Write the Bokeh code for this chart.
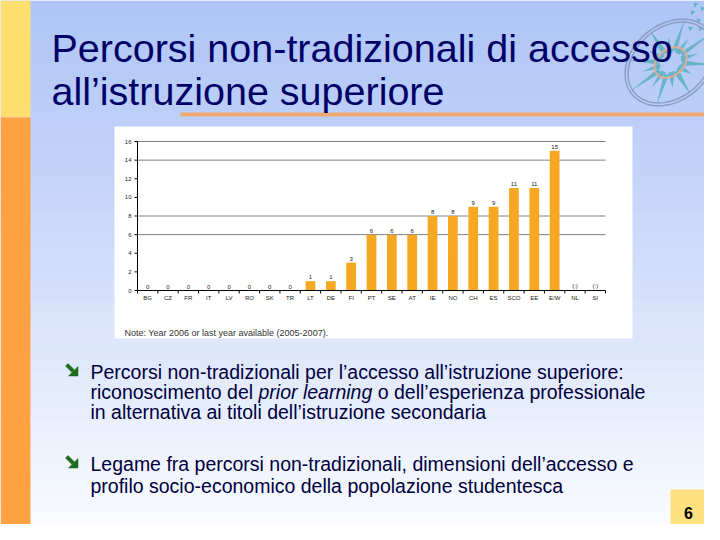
import numpy as np
from bokeh.plotting import figure
from bokeh.models import Range1d, ColumnDataSource
from bokeh.core.properties import value
from bokeh.embed import file_html
from bokeh.resources import INLINE

# ---------------- data ----------------
countries = ["BG", "CZ", "FR", "IT", "LV", "RO", "SK", "TR", "LT", "DE", "FI", "PT",
             "SE", "AT", "IE", "NO", "CH", "ES", "SCO", "EE", "E/W", "NL", "SI"]
values = [0, 0, 0, 0, 0, 0, 0, 0, 1, 1, 3, 6, 6, 6, 8, 8, 9, 9, 11, 11, 15, None, None]
missing_label = "(:)"
y_ticks = [0, 2, 4, 6, 8, 10, 12, 14, 16]
grid_ticks = [6, 8, 14, 16]
y_max = 16

title_lines = ["Percorsi non-tradizionali di accesso", "all\u2019istruzione superiore"]
note_text = "Note: Year 2006 or last year available (2005-2007)."
bullet1 = ["Percorsi non-tradizionali per l\u2019accesso all\u2019istruzione superiore:",
           ("riconoscimento del", "prior learning", "o dell\u2019esperienza professionale"),
           "in alternativa ai titoli dell\u2019istruzione secondaria"]
bullet2 = ["Legame fra percorsi non-tradizionali, dimensioni dell\u2019accesso e",
           "profilo socio-economico della popolazione studentesca"]
page_number = "6"

# ---------------- geometry (slide pixels) ----------------
W, H = 704, 524
X0, X1, Y0, Y1 = 0, W, 0, H
FL, FR, FT, FB = 137, 605, 141, 290                  # chart plot area
n = len(countries)
cw = (FR - FL) / n                                    # px per category
k = (FB - FT) / y_max                                 # px per unit

p = figure(width=W, height=H, x_range=Range1d(X0, X1), y_range=Range1d(Y1, Y0),
           x_axis_type=None, y_axis_type=None, output_backend="svg",
           toolbar_location=None, min_border=0)
p.outline_line_color = None
p.background_fill_color = "#F4F7FE"
p.border_fill_color = "#F4F7FE"
# chart scales mapped into the same frame
p.extra_x_ranges = {"idx": Range1d((X0 - FL) / cw, (X1 - FL) / cw)}
p.extra_y_ranges = {"val": Range1d((FB - Y1) / k, (FB - Y0) / k)}

FONT = value("Liberation Sans")

# ---------------- slide background ----------------
top_c = np.array([176, 198, 247])
bot_c = np.array([252, 253, 255])
ys = np.arange(0, 540, 10)
cols = []
for y in ys:
    t = (y / 530) ** 1.15
    c = np.clip(top_c + (bot_c - top_c) * t, 0, 255).astype(int)
    cols.append("#%02x%02x%02x" % tuple(c))
p.quad(left=0, right=720, top=ys, bottom=ys + 11, fill_color=cols, line_color=None)

deco = dict(left=[0, 0, 180, 114, 670], right=[30, 30, 720, 632, 720],
            top=[0, 117, 112, 126, 489], bottom=[117, 540, 116, 338, 540],
            color=["#FFDE70", "#FFA244", "#EDA86E", "#FFFFFF", "#FFE27E"])
p.quad(left="left", right="right", top="top", bottom="bottom", fill_color="color",
       line_color=None, source=ColumnDataSource(deco))

# compass decoration
cxc, cyc = 670, 62
ang = np.deg2rad(-40)
th = np.linspace(0, 2 * np.pi, 72)


def rot(ex, ey):
    return (cxc + ex * np.cos(ang) - ey * np.sin(ang),
            cyc + ex * np.sin(ang) + ey * np.cos(ang))


def ell(a, b):
    return rot(a * np.cos(th), b * np.sin(th))


pxs, pys = [], []
for j in range(16):
    phi = j * np.pi / 8 + 0.1
    r = 1.0 if j % 2 == 0 else 0.62
    a_, b_ = 50 * r, 38 * r
    tip = rot(a_ * np.cos(phi), b_ * np.sin(phi))
    w = 0.22 if j % 2 == 0 else 0.3
    base = 14 if j % 2 == 0 else 12
    s1 = rot(base * np.cos(phi + w), base * 0.76 * np.sin(phi + w))
    s2 = rot(base * np.cos(phi - w), base * 0.76 * np.sin(phi - w))
    pxs.append([s1[0], tip[0], s2[0]])
    pys.append([s1[1], tip[1], s2[1]])
for (dx, dy) in [(700, 6), (705, 14), (696, 18), (690, 10), (688, 26), (698, 26), (693, 2)]:
    pxs.append([dx, dx + 5, dx + 1])
    pys.append([dy, dy + 1, dy + 5])
p.patches(pxs, pys, fill_color="#5FB0BE", fill_alpha=0.9, line_color=None)
e1 = ell(50, 38)
e2 = ell(47, 35)
e3 = ell(18, 13)
p.multi_line([list(e1[0]), list(e2[0])], [list(e1[1]), list(e2[1])],
             line_color="#8C9FC2", line_width=1.5)
p.multi_line([list(e3[0])], [list(e3[1])], line_color="#D8AE9A", line_width=2)

# ---------------- chart ----------------
R = dict(x_range_name="idx", y_range_name="val")
centers = np.arange(n) + 0.5
bar_top = [v if v is not None else np.nan for v in values]
lab_y = [v if v is not None else 0 for v in values]
lab_txt = [str(v) if v is not None else missing_label for v in values]

# grid lines
p.segment(x0=0, x1=n, y0=grid_ticks, y1=grid_ticks, line_color="#808080",
          line_width=1, **R)
# bars
p.vbar(x=centers, top=bar_top, bottom=0, width=0.48, fill_color="#F7A823",
       line_color=None, **R)
# value labels
p.text(x=centers, y=lab_y, text=lab_txt, y_offset=-2, text_align="center",
       text_baseline="bottom", text_font=FONT, text_font_size="6px",
       text_color="#222222", **R)
# y axis
p.segment(x0=0, x1=0, y0=0, y1=y_max, line_color="black", line_width=1, **R)
p.segment(x0=-3 / cw, x1=0, y0=y_ticks, y1=y_ticks, line_color="black",
          line_width=1, **R)
p.text(x=0, y=y_ticks, text=[str(t) for t in y_ticks], x_offset=-6,
       text_align="right", text_baseline="middle", text_font=FONT,
       text_font_size="6px", text_color="#222222", **R)
# x axis
p.segment(x0=0, x1=n, y0=0, y1=0, line_color="black", line_width=1, **R)
p.segment(x0=np.arange(n + 1), x1=np.arange(n + 1), y0=0, y1=-3 / k,
          line_color="black", line_width=1, **R)
p.text(x=centers, y=0, text=countries, y_offset=7, text_align="center",
       text_baseline="middle", text_font=FONT, text_font_size="6px",
       text_color="#222222", **R)

# ---------------- slide texts ----------------


def txt(x, y, t, size, color, font=FONT, style="normal", align="left"):
    p.text(x=[x], y=[y], text=[t], text_font=font, text_font_size=size,
           text_font_style=style, text_color=color, text_align=align,
           text_baseline="alphabetic")


txt(124, 332, note_text, "9px", "#333333")

TC = "#000066"
txt(51, 47, title_lines[0], "39.5px", TC)
txt(51, 90, title_lines[1], "39.5px", TC)

BC = "#000040"
FS = 19.5
fs = "%gpx" % FS
a, b, c = bullet1[1]
SP = 278 * FS / 1000.0
w_a = 8336 * FS / 1000.0 + SP
w_b = 5835 * FS / 1000.0 + SP
txt(90, 371, bullet1[0], fs, BC)
txt(90, 391, a, fs, BC)
txt(90 + w_a, 391, b, fs, BC, style="italic")
txt(90 + w_a + w_b, 391, c, fs, BC)
txt(90, 411, bullet1[2], fs, BC)
txt(90, 463, bullet2[0], fs, BC)
txt(90, 485, bullet2[1], fs, BC)

# bullet arrows (south-east arrows)
axs, ays = [], []
for (bx, by) in [(64, 362), (64, 454)]:
    shaft_x = [1, 3.5, 10, 7.5]
    shaft_y = [3.5, 1, 7.5, 10]
    head_x = [13.5, 13.5, 4]
    head_y = [13.5, 4, 13.5]
    axs += [[bx + v for v in shaft_x], [bx + v for v in head_x]]
    ays += [[by + v for v in shaft_y], [by + v for v in head_y]]
p.patches(axs, ays, fill_color="#1D6A1D", line_color="#1D6A1D", line_width=0.5)

txt(688, 512, page_number, "16px", "#000000", style="bold", align="center")

open("out.html", "w").write(file_html(p, INLINE))
